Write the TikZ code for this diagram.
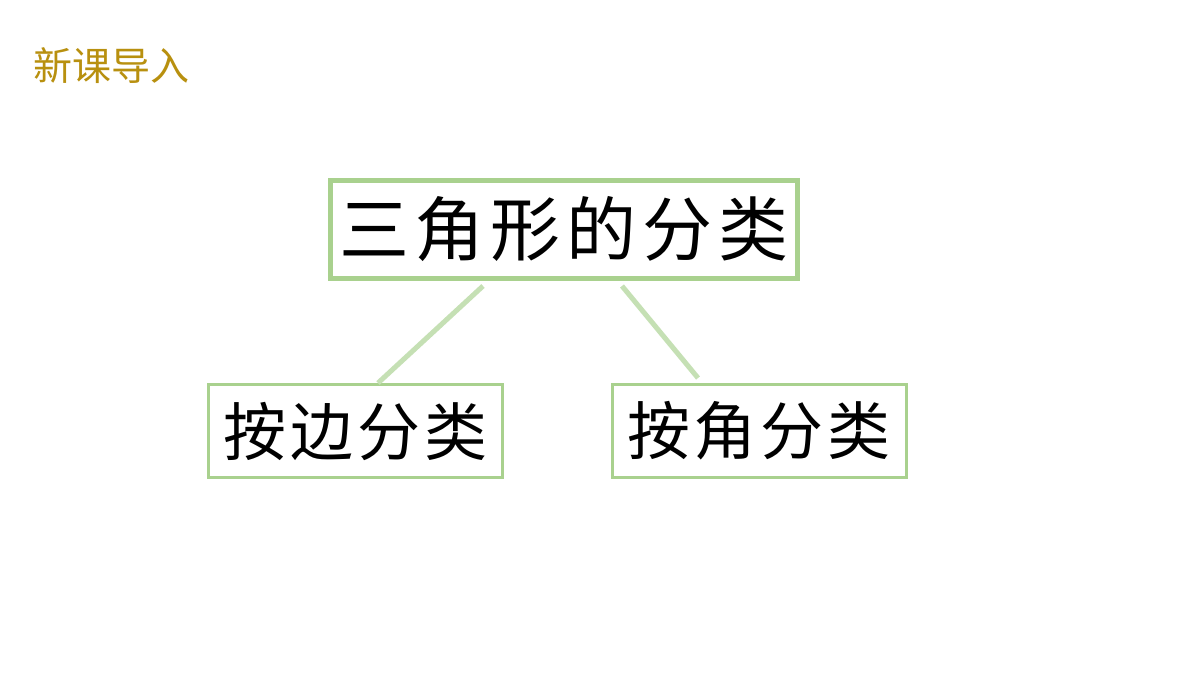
\documentclass[tikz,border=0pt]{standalone}
\usepackage{fontspec}
\newfontfamily\cjk{Noto Sans CJK SC}
\definecolor{gold}{HTML}{B8900F}
\definecolor{boxgreen}{HTML}{A9D18E}
\definecolor{linegreen}{HTML}{C5E0B4}
\newcommand{\gp}[1]{\hspace{#1}}
\begin{document}
\begin{tikzpicture}[x=1pt,y=-1pt,
  bigbox/.style={draw=boxgreen,line width=5pt,minimum width=467pt,minimum height=98pt,inner sep=0pt,font=\cjk\fontsize{70}{70}\selectfont},
  subbox/.style={draw=boxgreen,line width=3pt,minimum width=294pt,minimum height=93pt,inner sep=0pt,font=\cjk\fontsize{63}{63}\selectfont},
  link/.style={draw=linegreen,line width=5pt}]
\useasboundingbox (0,0) rectangle (1200,675);
\fill[white] (0,0) rectangle (1200,675);
\node[anchor=west,text=gold,font=\cjk\fontsize{39}{39}\selectfont,inner sep=0pt] (title) at (33,66) {新课导入};
\node[bigbox] (top) at (564,229.5) {\raisebox{-3pt}{三\gp{6pt}角\gp{6pt}形\gp{6pt}的\gp{6pt}分\gp{6pt}类}};
\node[subbox] (left) at (355.5,431) {按\gp{4pt}边\gp{4pt}分\gp{4pt}类};
\node[subbox] (right) at (759,431) {按\gp{4pt}角\gp{4pt}分\gp{4pt}类};
\coordinate (s1) at (483,286);
\coordinate (s2) at (622,286);
\coordinate (e2) at (698,378);
\draw[link] (s1) -- (left.north -| 378,0);
\draw[link] (s2) -- (e2);
\end{tikzpicture}
\end{document}
